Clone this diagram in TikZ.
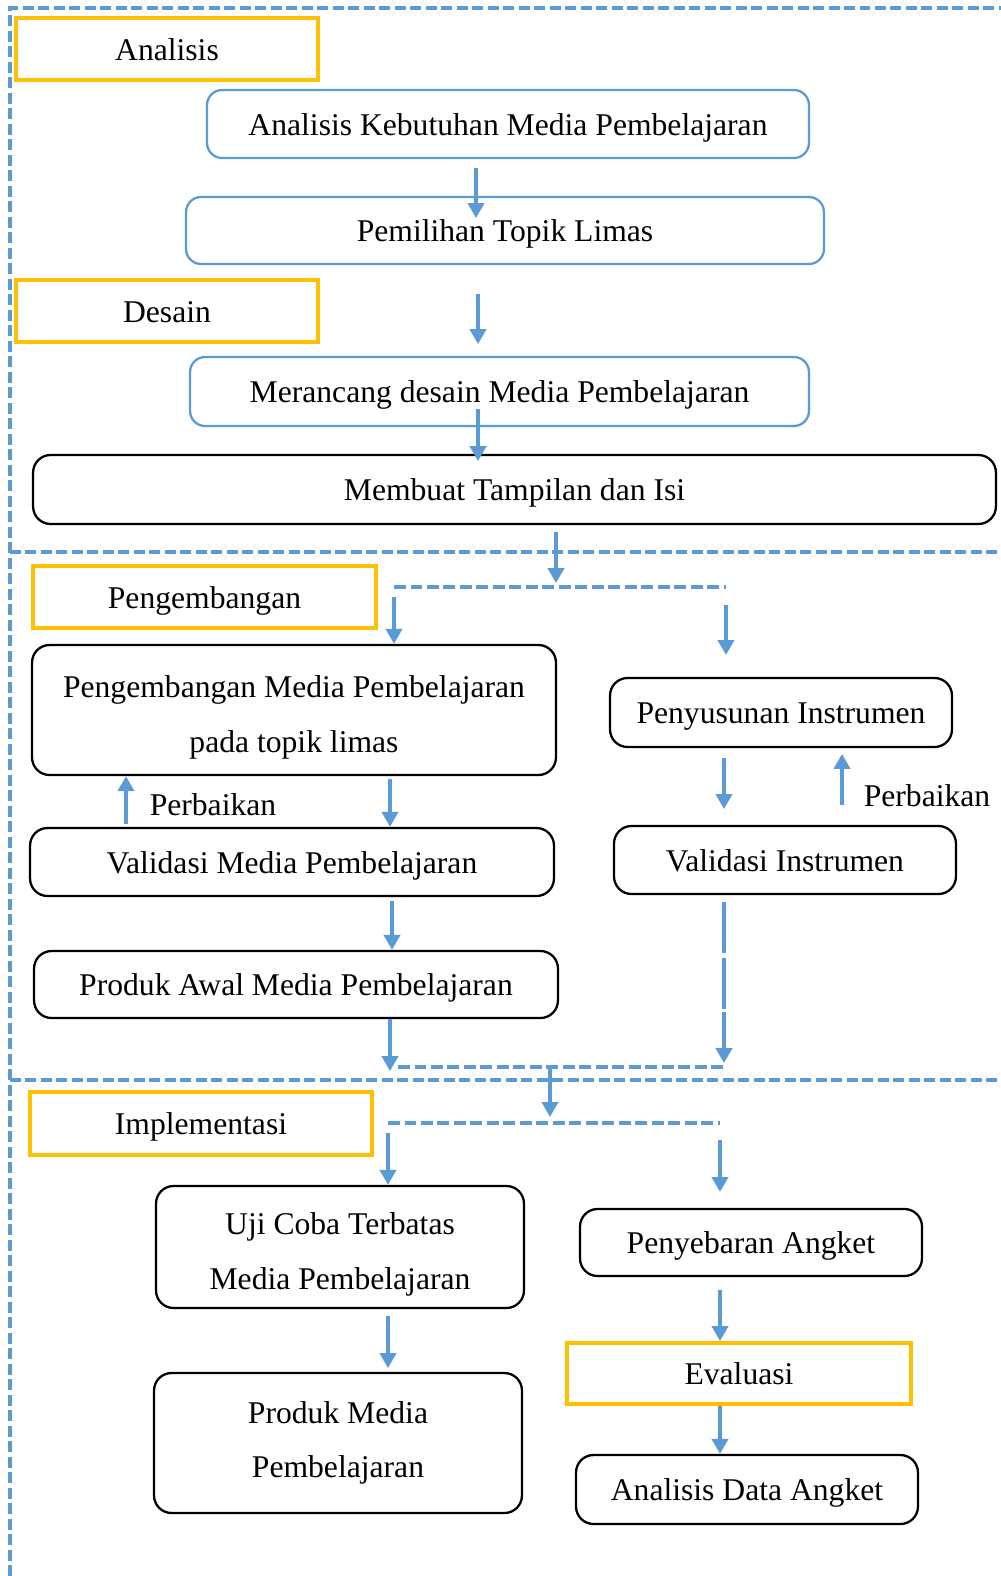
\documentclass[tikz,border=0pt]{standalone}
\usepackage{fontspec}
\setmainfont{Liberation Serif}
\usetikzlibrary{arrows.meta}
\definecolor{garisbiru}{RGB}{91,155,213}
\definecolor{kuning}{RGB}{255,192,0}
\newcommand{\ganjal}{\rule{0pt}{21pt}}
\tikzset{
  satu/.style={text height=13pt, text depth=0pt},
  tahap/.style={draw=kuning, line width=2.2pt, minimum width=6.04cm, minimum height=1.24cm, inner sep=0pt, satu},
  kotakbiru/.style={draw=garisbiru, line width=1.3pt, rounded corners=0.3cm, inner sep=0pt, satu},
  kotak/.style={draw=black, line width=1.3pt, rounded corners=0.35cm, inner sep=0pt, align=center},
  panah/.style={draw=garisbiru, line width=2.4pt, -{Triangle[length=0.3cm,width=0.32cm]}},
  putus/.style={draw=garisbiru, line width=2.4pt, dash pattern=on 0.24cm off 0.09cm},
  batas/.style={draw=garisbiru, line width=2pt, dash pattern=on 0.22cm off 0.09cm}
}

\begin{document}
\begin{tikzpicture}[x=0.02cm, y=-0.02cm, font=\fontsize{18}{31}\selectfont]
  \useasboundingbox (0,0) rectangle (1001,1576);
  \draw[batas] (10,1576) -- (10,8) -- (1001,8);
  \draw[batas] (10,552) -- (1001,552);
  \draw[batas] (10,1080) -- (1001,1080);

  \node[tahap] (analisis) at (167,49) {Analisis};
  \node[kotakbiru, minimum width=12.04cm, minimum height=1.36cm] (kebutuhan) at (508,124) {Analisis Kebutuhan Media Pembelajaran};
  \node[kotakbiru, minimum width=12.76cm, minimum height=1.34cm] (pemilihan) at (505,230.5) {Pemilihan Topik Limas};
  \node[tahap] (desain) at (167,311) {Desain};
  \node[kotakbiru, minimum width=12.38cm, minimum height=1.38cm] (merancang) at (499.5,391.5) {Merancang desain Media Pembelajaran};
  \node[kotak, satu, minimum width=19.26cm, minimum height=1.38cm] (membuat) at (514.5,489.5) {Membuat Tampilan dan Isi};

  \node[tahap, minimum width=6.86cm] (pengembangan) at (204.5,597) {Pengembangan};
  \node[kotak, minimum width=10.48cm, minimum height=2.6cm] (pengmedia) at (294,710) {\ganjal Pengembangan Media Pembelajaran\\pada topik limas};
  \node[kotak, satu, minimum width=6.84cm, minimum height=1.38cm] (penyusunan) at (781,712.5) {Penyusunan Instrumen};
  \node[kotak, satu, minimum width=10.48cm, minimum height=1.36cm] (valmedia) at (292,862) {Validasi Media Pembelajaran};
  \node[kotak, satu, minimum width=6.84cm, minimum height=1.36cm] (valinst) at (785,860) {Validasi Instrumen};
  \node[kotak, satu, minimum width=10.48cm, minimum height=1.34cm] (produkawal) at (296,984.5) {Produk Awal Media Pembelajaran};
  \node (perbaikankiri) at (213,805) {Perbaikan};
  \node (perbaikankanan) at (927,796) {Perbaikan};

  \node[tahap, minimum width=6.84cm, minimum height=1.26cm] (implementasi) at (201,1123.5) {Implementasi};
  \node[kotak, minimum width=7.36cm, minimum height=2.44cm] (ujicoba) at (340,1247) {\ganjal Uji Coba Terbatas\\Media Pembelajaran};
  \node[kotak, satu, minimum width=6.84cm, minimum height=1.34cm] (penyebaran) at (751,1242.5) {Penyebaran Angket};
  \node[tahap, minimum width=6.88cm, minimum height=1.22cm] (evaluasi) at (739,1373.5) {Evaluasi};
  \node[kotak, minimum width=7.36cm, minimum height=2.8cm] (produkmedia) at (338,1443) {Produk Media\\Pembelajaran};
  \node[kotak, satu, minimum width=6.84cm, minimum height=1.38cm] (analisisdata) at (747,1489.5) {Analisis Data Angket};

  \coordinate (cabangkiri1) at (394,587);
  \coordinate (cabangkanan1) at (726,587);
  \coordinate (gabung) at (550,1067);
  \coordinate (cabangkiri2) at (388,1123);
  \coordinate (cabangkanan2) at (720,1123);

  \draw[panah] (kebutuhan.south -| 476,0) ++(0,9) -- ++(0,50);
  \draw[panah] (pemilihan.south -| 478,0) ++(0,29) -- ++(0,50);
  \draw[panah] (merancang.south -| 478,0) ++(0,-18) -- ++(0,52);
  \draw[panah] (membuat.south -| 556,0) ++(0,7) -- ++(0,51);

  \draw[putus] (cabangkiri1) -- (cabangkanan1);
  \draw[panah] (cabangkiri1) ++(0,10) -- (pengmedia.north -| cabangkiri1);
  \draw[panah] (cabangkanan1) ++(0,18) -- ++(0,50);
  \draw[panah] (valmedia.north -| 126,0) ++(0,-3) -- (pengmedia.south -| 126,0);
  \draw[panah] (pengmedia.south -| 390,0) ++(0,3) -- (valmedia.north -| 390,0);
  \draw[panah] (penyusunan.south -| 724,0) ++(0,10) -- ++(0,51);
  \draw[panah] (valinst.north -| 842,0) ++(0,-20) -- ++(0,-51);
  \draw[panah] (valmedia.south -| 392,0) ++(0,4) -- (produkawal.north -| 392,0);
  \draw[panah] (produkawal.south -| 390,0) -- ++(0,52);
  \draw[garisbiru, line width=2.4pt] (valinst.south -| 724,0) ++(0,7) -- ++(0,51) ++(0,5) -- ++(0,51);
  \draw[panah] (valinst.south -| 724,0) ++(0,117) -- ++(0,51);

  \draw[putus] (398,1067) -- (727,1067);
  \draw[panah] (gabung) -- ++(0,50);
  \draw[putus] (cabangkiri2) -- (cabangkanan2);
  \draw[panah] (cabangkiri2) ++(0,10) -- (ujicoba.north -| cabangkiri2);
  \draw[panah] (cabangkanan2) ++(0,17) -- ++(0,52);
  \draw[panah] (ujicoba.south -| 388,0) ++(0,7) -- ++(0,52);
  \draw[panah] (penyebaran.south -| 720,0) ++(0,13) -- (evaluasi.north -| 720,0);
  \draw[panah] (evaluasi.south -| 720,0) -- (analisisdata.north -| 720,0);
\end{tikzpicture}
\end{document}
